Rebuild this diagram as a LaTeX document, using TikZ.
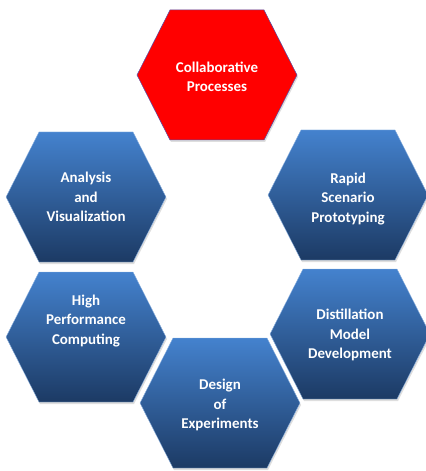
\documentclass[tikz,border=0pt]{standalone}
\usepackage{fontspec}
\setmainfont{Carlito}
\usepackage{xcolor}
\usepackage{tikz}
\usetikzlibrary{positioning}

\definecolor{hextop}{RGB}{68,130,206}
\definecolor{hexbot}{RGB}{28,58,100}
\definecolor{hexred}{RGB}{255,0,0}

\begin{document}
\begin{tikzpicture}[
  x=1bp, y=-1bp,
  hexblue/.style={top color=hextop, bottom color=hexbot, draw=hextop!60!white, line width=0.4pt},
  hexredfill/.style={fill=hexred, draw=blue!35!gray, line width=0.5pt},
  hexshade/.style={fill=black!13},
  hexlabel/.style={text=white, align=center, font=\bfseries\fontsize{15}{19.5}\selectfont}
]
\useasboundingbox (0,0) rectangle (425,471);
% shadows first
\foreach \cx/\cy in {217/75, 86/197, 348/195, 86/337, 350/334, 220/403}
  \path[hexshade] (\cx-79,\cy+2) -- (\cx-46,\cy-63) -- (\cx+48,\cy-63)
    -- (\cx+81,\cy+2) -- (\cx+48,\cy+67) -- (\cx-46,\cy+67) -- cycle;
% red hexagon
\path[hexredfill] (137,75) -- (170,10) -- (264,10) -- (297,75) -- (264,140) -- (170,140) -- cycle;
% blue hexagons
\foreach \cx/\cy in {86/197, 348/195, 86/337, 350/334, 220/403}
  \path[hexblue] (\cx-80,\cy) -- (\cx-47,\cy-65) -- (\cx+47,\cy-65)
    -- (\cx+80,\cy) -- (\cx+47,\cy+65) -- (\cx-47,\cy+65) -- cycle;
% labels
\node[hexlabel] (collab) at (217,77) {Collaborative\\Processes};
\node[hexlabel] (analysis) at (86,197) {Analysis\\and\\Visualization};
\node[hexlabel] (rapid) at (348,199) {Rapid\\Scenario\\Prototyping};
\node[hexlabel] (hpc) at (86,321) {High\\Performance\\Computing};
\node[hexlabel] (distill) at (350,335) {Distillation\\Model\\Development};
\node[hexlabel] (design) at (220,405) {Design\\of\\Experiments};
\end{tikzpicture}
\end{document}
